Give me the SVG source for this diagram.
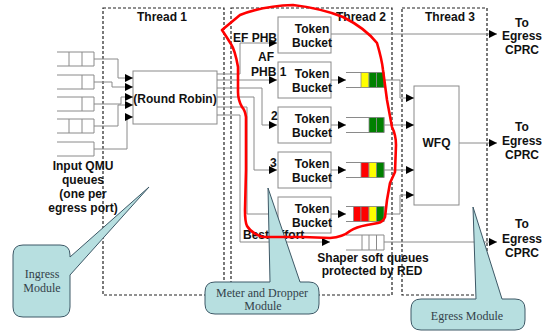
<svg xmlns="http://www.w3.org/2000/svg" width="543" height="331" viewBox="0 0 543 331">
<defs>
<marker id="ah" markerUnits="userSpaceOnUse" markerWidth="8" markerHeight="8" refX="8" refY="4" orient="auto">
<path d="M0,0 L8,4 L0,8 Z" fill="#000"/>
</marker>
</defs>
<style>
.t{font-family:"Liberation Sans",Arial,sans-serif;font-weight:bold;font-size:12px;fill:#111}
.m{text-anchor:middle}
.c{font-family:"Liberation Serif","Times New Roman",serif;font-size:12px;fill:#33424a;text-anchor:middle}
.th{fill:none;stroke:#222;stroke-width:1.2;stroke-dasharray:3,2}
.box{fill:#fff;stroke:#8a8a8a;stroke-width:1}
.w{fill:none;stroke:#8a8a8a;stroke-width:1}
.a{marker-end:url(#ah)}
.q{fill:none;stroke:#8a8a8a;stroke-width:1}
.r{fill:#ff0000;stroke:#8a8a8a;stroke-width:0.8}
.y{fill:#ffff00;stroke:#8a8a8a;stroke-width:0.8}
.g{fill:#008000;stroke:#8a8a8a;stroke-width:0.8}
.call{fill:#b7dfe0;stroke:#3d5866;stroke-width:1}
</style>
<rect width="543" height="331" fill="#fff"/>

<g id="threads">
<rect class="th" x="103" y="8" width="121" height="287"/>
<rect class="th" x="231" y="8" width="161" height="287"/>
<rect class="th" x="402" y="8" width="85" height="287"/>
<text class="t m" x="162" y="21">Thread 1</text>
<text class="t m" x="361" y="21">Thread 2</text>
<text class="t m" x="450" y="21">Thread 3</text>
</g>

<g id="input-queues">
<path class="q" d="M57,52 H94 V66 H57 M69,52 V66 M82,52 V66"/>
<path class="q" d="M57,75 H94 V89 H57 M82,75 V89"/>
<path class="q" d="M57,97 H94 V111 H57 M82,97 V111"/>
<path class="q" d="M57,119 H94 V133 H57 M69,119 V133 M82,119 V133"/>
<path class="q" d="M57,142 H94 V156 H57"/>
<text class="t m" x="83" y="170">Input QMU</text>
<text class="t m" x="83" y="184">queues</text>
<text class="t m" x="83" y="198">(one per</text>
<text class="t m" x="83" y="212">egress port)</text>
</g>

<g id="round-robin">
<rect class="box" x="133" y="71" width="84" height="53"/>
<text class="t m" x="175" y="103">(Round Robin)</text>
</g>

<g id="tb1"><rect class="box" x="278" y="17" width="53" height="36"/><text class="t m" x="312" y="33">Token</text><text class="t m" x="312" y="47">Bucket</text></g>
<g id="tb2"><rect class="box" x="278" y="62" width="53" height="36"/><text class="t m" x="312" y="78">Token</text><text class="t m" x="312" y="92">Bucket</text></g>
<g id="tb3"><rect class="box" x="278" y="107" width="53" height="36"/><text class="t m" x="312" y="123">Token</text><text class="t m" x="312" y="137">Bucket</text></g>
<g id="tb4"><rect class="box" x="278" y="152" width="53" height="36"/><text class="t m" x="312" y="168">Token</text><text class="t m" x="312" y="182">Bucket</text></g>
<g id="tb5"><rect class="box" x="278" y="197" width="53" height="36"/><text class="t m" x="312" y="213">Token</text><text class="t m" x="312" y="227">Bucket</text></g>

<g id="queue2">
<path class="q" d="M346,72.5 H384 V87.5 H346"/>
<rect class="y" x="361" y="72.5" width="8" height="15"/><rect class="g" x="369" y="72.5" width="7.5" height="15"/><rect class="g" x="376.5" y="72.5" width="7.5" height="15"/>
</g>
<g id="queue3">
<path class="q" d="M346,117.5 H384 V132.5 H346"/>
<rect class="g" x="369" y="117.5" width="7.5" height="15"/><rect class="g" x="376.5" y="117.5" width="7.5" height="15"/>
</g>
<g id="queue4">
<path class="q" d="M346,162.5 H384 V177.5 H346"/>
<rect class="r" x="361" y="162.5" width="8" height="15"/><rect class="y" x="369" y="162.5" width="7.5" height="15"/><rect class="g" x="376.5" y="162.5" width="7.5" height="15"/>
</g>
<g id="queue5">
<path class="q" d="M346,206.5 H384 V221.5 H346"/>
<rect class="r" x="353.5" y="206.5" width="7.5" height="15"/><rect class="r" x="361" y="206.5" width="8" height="15"/><rect class="y" x="369" y="206.5" width="7.5" height="15"/><rect class="g" x="376.5" y="206.5" width="7.5" height="15"/>
</g>
<g id="shaper-queue">
<path class="q" d="M346,235 H384 V250 H346 M362,235 V250 M369,235 V250 M376.5,235 V250"/>
<text class="t m" x="373" y="262">Shaper soft queues</text>
<text class="t m" x="372" y="275">protected by RED</text>
</g>

<g id="wfq">
<rect class="box" x="414" y="86" width="45" height="119"/>
<text class="t m" x="436.5" y="147">WFQ</text>
</g>

<g id="egress-labels">
<text class="t m" x="522" y="27">To</text><text class="t m" x="522" y="40">Egress</text><text class="t m" x="522" y="54">CPRC</text>
<text class="t m" x="522" y="131">To</text><text class="t m" x="522" y="145">Egress</text><text class="t m" x="522" y="159">CPRC</text>
<text class="t m" x="522" y="228">To</text><text class="t m" x="522" y="243">Egress</text><text class="t m" x="522" y="257">CPRC</text>
</g>

<g id="connectors">
<path class="w a" d="M94,59 H118 V78 H133"/>
<path class="w a" d="M94,82 H112 V87 H133"/>
<path class="w a" d="M94,104 H121 V97 H133"/>
<path class="w a" d="M94,126 H118 V105 H133"/>
<path class="w a" d="M94,149 H127 V117 H133"/>
<path class="w a" d="M217,74 H240 V43 H277"/>
<path class="w a" d="M217,80 H277"/>
<path class="w a" d="M217,88 H262 V125 H277"/>
<path class="w a" d="M217,97 H254 V170 H277"/>
<path class="w a" d="M217,107 H247 V214 H277"/>
<path class="w a" d="M217,115 H240 V242 H330"/>
<path class="w a" d="M331,34 H497"/>
<path class="w a" d="M331,80 H346"/>
<path class="w a" d="M331,125 H346"/>
<path class="w a" d="M331,170 H346"/>
<path class="w a" d="M331,214 H346"/>
<path class="w a" d="M384,80 H400 V98 H414"/>
<path class="w a" d="M384,125 H414"/>
<path class="w a" d="M384,170 H414"/>
<path class="w a" d="M384,214 H400 V195 H414"/>
<path class="w a" d="M459,143 H497"/>
<path class="w a" d="M384,242 H497"/>
</g>

<g id="connector-labels">
<text class="t" x="233" y="42">EF PHB</text>
<text class="t m" x="266" y="61">AF</text>
<text class="t" x="251" y="76">PHB 1</text>
<text class="t" x="271" y="120">2</text>
<text class="t" x="270" y="167">3</text>
<text class="t" x="243" y="239">Best Effort</text>
</g>

<g id="ingress-callout">
<path class="call" d="M23,245 H60 Q70,245 70,255 V257 L149,187 L70,275 V307 Q70,317 60,317 H23 Q13,317 13,307 V255 Q13,245 23,245 Z"/>
<text class="c" x="42" y="278">Ingress</text>
<text class="c" x="42" y="292">Module</text>
</g>
<g id="meter-callout">
<path class="call" d="M215,282 H270 L268,188 L300,282 H309 Q319,282 319,292 V304 Q319,314 309,314 H215 Q205,314 205,304 V292 Q205,282 215,282 Z"/>
<text class="c" x="262" y="297">Meter and Dropper</text>
<text class="c" x="263" y="310">Module</text>
</g>
<g id="egress-callout">
<path class="call" d="M421,299 H476 L473,207 L502,299 H515 Q525,299 525,309 V320 Q525,330 515,330 H421 Q411,330 411,320 V309 Q411,299 421,299 Z"/>
<text class="c" x="467" y="320">Egress Module</text>
</g>

<path id="red-outline" fill="none" stroke="#ff0000" stroke-width="2.6" stroke-linejoin="round" stroke-linecap="round" d="M222,30 L240,15 Q263,6 293,5 Q320,8 343,17 Q365,28 377,43 Q382,60 383,70 L387,100 L392,127 Q396,135 396,145 L395,172 L390,183 L387,200 L385,217 Q383,222 378,223 L367,225 Q356,227 350,231 Q343,237 330,238 L303,237 L263,237 Q252,234 247,226 Q245,222 245,210 L246,170 L246,117 Q245,110 242,107 Q238,100 238,92 L238,67 Q235,50 231,44 Q226,36 222,30 Z"/>
</svg>
